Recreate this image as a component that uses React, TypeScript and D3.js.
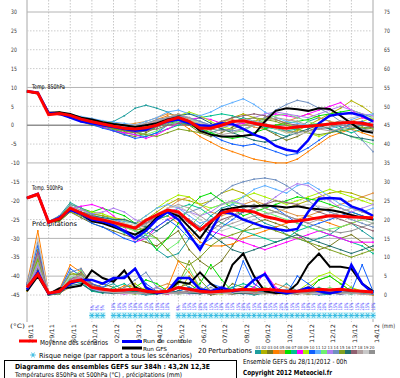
import React from "react";
import * as d3 from "d3";

const hours = [0,12,24,36,48,60,72,84,96,108,120,132,144,156,168,180,192,204,216,228,240,252,264,276,288,300,312,324,336,348,360,372,384];
const dayLabels = ["28/11","29/11","30/11","01/12","02/12","03/12","04/12","05/12","06/12","07/12","08/12","09/12","10/12","11/12","12/12","13/12","14/12"];
const leftTicks = [30,25,20,15,10,5,0,-5,-10,-15,-20,-25,-30,-35,-40,-45];
const rightTicks = [75,70,65,60,55,50,45,40,35,30,25,20,15,10,5,0];
const solidLevels = [30,10,-10,-30,-40];
const memberColors = ["#1e9e9e","#b0b000","#7a7a20","#ff8000","#e09040","#00e000","#00c090","#ff00ff","#a8f000","#1060ff","#60b0ff","#70f070","#b080f0","#7090c0","#80a020","#207070","#906070","#b0a0a0","#c8c8c8","#909090"];
const memberNames = ["01","02","03","04","05","06","07","08","09","10","11","12","13","14","15","16","17","18","19","20"];

// T850 (°C)
const mean850 = [9,8.5,2.8,3.1,2.6,1.6,0.9,0.3,-0.3,-0.8,-1,-0.7,0,1.2,2,1,-0.8,-0.8,0,1,1.2,0.5,0,-0.5,-0.8,-0.5,-0.3,0,0.3,0.6,0.8,0.5,0];
const ctrl850 = [9,8.6,3.2,3,2,1,0.5,0,-0.5,-1,-1.5,-1.2,0,1,1.5,0.5,0,-0.2,0.5,0.3,-1,-2.5,-3.5,-5.5,-6.5,-7,-4,0.5,2.5,3,3.2,2.5,1];
const gfs850 = [9,8.4,3.3,3.4,3,2,1.5,0.8,0.3,0,-0.5,0,0.5,1.5,2,1,-1.5,-2.5,-3,-3,-2.8,-2.5,1,3.8,4.5,4.2,3.8,4.5,4.3,2.5,0.5,-1.5,-2];
const pert850 = [
  [9,8.6,3,3.2,2.5,1.8,1.2,0.5,1,2.5,4.5,5.3,4.5,3.5,2,0.5,-1,-2,-1,0.5,2,1,-1,-2,-3,-1,1,2,1,-0.5,-1,0,1],
  [9,8.4,3.2,3.5,2.8,2,1.2,0.8,0.2,-0.3,-1,-0.5,1,2,3,1.5,0,-1,0.5,2,3,2,0.5,-1,-2,-1.5,0,1.5,3,4.5,6.5,5,3],
  [9,8.5,2.8,3,2,1,0,-0.5,-1.5,-2.5,-3,-2,-0.5,0.5,1.5,0,-2,-3,-2,-0.5,1,0.5,-1,-2.5,-4,-3,-1.5,-0.5,0.5,1,0,-1,-0.5],
  [9,8.7,3.3,3.1,2.2,1.5,1,0,-1,-2,-1.5,0,1.5,2.5,1,-1,-3,-4.5,-6,-7,-8,-9,-9.5,-10,-10,-9,-7,-5,-3,-2,-1,-2,-3],
  [9,8.5,3,2.8,2.5,2,1.5,1,0.5,0,0.5,1,2,3,2.5,1.5,0.5,0,1,1.5,0.5,-0.5,-1,0,1,2,3,2,1,0.5,1,2,1.5],
  [9,8.6,3.1,3.3,2.6,1.7,0.8,0,-0.8,-1.5,-2,-1.5,-0.5,0.5,1,0,-1,-2,-3,-3.5,-3,-2,-1,0,0.5,1,1.5,2.5,3,3.5,4,3,2],
  [9,8.5,3,3,2.3,1.2,0.3,-0.5,-1.2,-2,-2.5,-3,-2,-1,0,1,2,2.5,3,2.5,1.5,0.5,-0.5,-1,-1.5,-1,0,0.5,0,-1,-2,-1,0],
  [9,8.4,2.9,3.2,2.4,1.5,0.5,-0.5,-1.5,-2,-2.5,-3.5,-2.5,-1,0.5,1.5,2,1.5,0.5,0,0.5,1,2,3,2.5,2,3,4,5,6,4,2,1],
  [9,8.6,3.2,3,2.7,2.2,1.5,1,0.5,0,-0.5,-1,0,1,2.5,3.5,2.5,1,-0.5,-1,0,1,2,1.5,0.5,-1,-2,-3,-2,-1,0,1,2],
  [9,8.5,3,2.9,2,1,0.2,-0.8,-1.5,-2.5,-3.5,-3,-2,0,1,0.5,-1,-2.5,-4,-5,-5.5,-5,-6,-7,-8,-7.5,-6,-4,-2,-1,0.5,1,0],
  [9,8.6,3.2,3.3,2.8,2.3,1.8,1.2,0.8,0.5,0,1,2,3.5,4,3,2.5,3.5,5,6,7,5.5,3.5,2,1,0.5,0,-0.5,-1,0,1.5,2.5,3],
  [9,8.5,3.1,3,2.4,1.6,0.8,0.4,0,-0.8,-1.5,-2.5,-1.5,0,1,1.5,1,0,-1,-2,-1.5,0,1.5,2.5,3,2,1,0,-1,-2,-3,-4,-5],
  [9,8.4,3,3.1,2.5,1.8,1.3,0.6,0.2,-0.2,-0.5,0,1,2,2.5,2,1,0,-0.5,0,1,2,3,3.5,3,2.5,2,3,4,5,4,3,2.5],
  [9,8.6,3.3,3.2,2.6,1.9,1,0.3,-0.5,-1,-0.5,0.5,1.5,2,2.5,2,1,0,-1,-1.5,-1,0,2,4,5.5,6.6,6,4.5,3,1,-1,-4,-7],
  [9,8.5,2.9,3,2.3,1.4,0.6,-0.2,-1,-1.5,-2,-2.5,-3,-2,-1,-1.5,-2,-1,0,1,1.5,2,1.5,1,0,-1,-2,-2.5,-2,-1.5,-1,-0.5,-1],
  [9,8.5,3,3.1,2.5,1.8,1,0.5,0.3,0,-0.3,0,0.5,1.5,2.5,3,2,0.5,-1,-2,-3,-4,-4.5,-4,-3,-2,-1,0,-1,-2,-3,-3.5,-4],
  [9,8.6,3.2,3,2.2,1.3,0.5,0,-0.5,-1.2,-2,-1.5,-1,0,0.5,0,-0.5,0,1,2,2.5,3,2.5,1.5,0.5,0,-0.5,0,0.5,1,0.5,0,-0.5],
  [9,8.4,3.1,3.2,2.7,2,1.3,0.7,0.3,0,0,0.5,1,2,3,2,0,-1.5,-2.5,-2,-1,0,1,2,1.5,1,0,-1,-1.5,-1,0,0.5,0],
  [9,8.5,3,3,2.4,1.6,1,0.3,-0.3,-0.8,-1.2,-1,0,1.2,2,1.5,0.5,0,0.5,1,1.5,1,0,-1,-2,-2.5,-2,-1,0,1,2,2.5,2],
  [9,8.6,2.9,3.1,2.3,1.4,0.7,0,-0.5,-1,-1.3,-1,-0.5,0.5,1.5,1,0,-1,-1.5,-1,0,1,0.5,-0.5,-1.5,-2,-1.5,-1,-0.5,0,-0.5,-1,-1.5],
];

// T500 (°C)
const mean500 = [-19.3,-18.3,-25.7,-24.8,-22,-23.3,-24.6,-25.1,-25.8,-26.5,-27.3,-25.2,-23.8,-22.5,-23,-25.5,-27.8,-25.5,-23.3,-22.5,-22.6,-23,-24.2,-24.8,-25.6,-25.4,-25,-24.5,-24,-24.1,-24.3,-24.4,-24.6];
const ctrl500 = [-19.3,-18.2,-25.8,-24.5,-22.5,-23.5,-25,-25.5,-26.5,-28,-30,-28,-25,-23,-25,-29,-33,-28,-23,-23.5,-25,-26,-27,-27.5,-28,-27.5,-23,-19.5,-19.3,-19.5,-21.5,-22.5,-24];
const gfs500 = [-19.3,-18.4,-25.6,-25,-22.3,-23.5,-25.5,-26,-27,-28,-29,-27.5,-24.5,-23,-24,-27,-30,-26,-22.5,-22,-21.5,-21.5,-21.3,-21.5,-21.8,-21.5,-22,-22.3,-22.5,-23,-23.8,-24.5,-25];
const pert500 = [
  [-19.3,-18.3,-25.5,-24,-20.5,-22,-23.5,-24,-25,-26,-28,-30,-33,-35,-34,-30,-27,-24,-22,-21,-22,-24,-26,-27,-29,-30,-31,-30,-29,-27,-26,-28,-30],
  [-19.3,-18.3,-25.8,-25,-22,-23,-23.5,-24,-24.5,-25,-26,-25,-23,-21,-19.5,-20,-21,-20,-18,-17,-18,-20,-22,-23,-22,-21,-20,-19,-18,-17.5,-18,-19,-20],
  [-19.3,-18.4,-25.6,-25.5,-23,-24.5,-26,-27,-28,-29,-30,-31,-32,-30,-28,-33,-36,-38,-36,-32,-28,-26,-25,-26,-27,-29,-31,-33,-32,-30,-29,-31,-33],
  [-19.3,-18.2,-25.9,-24.5,-21.5,-23,-24.5,-24.8,-25.5,-26,-27,-26,-25,-24,-26,-28,-31,-32,-32,-31.5,-30,-29,-28,-27,-26,-25,-24,-25,-26,-27,-26,-25,-24],
  [-19.3,-18.3,-25.7,-24.8,-22.5,-23.5,-25,-25.5,-26,-27,-28,-27,-25,-22,-20,-19,-21,-23,-24,-23,-21,-20,-21,-22,-23,-24,-24,-23,-22,-21,-20,-19,-18],
  [-19.3,-18.3,-25.5,-24.5,-21,-22,-23,-22,-23,-24,-26,-29,-33,-30,-26,-22,-19,-18,-20,-22,-24,-23,-22,-21,-20,-19,-19.5,-20,-21,-22,-23,-24,-25],
  [-19.3,-18.4,-25.8,-25,-22,-23,-24,-25,-27,-28.5,-29,-27,-25,-24,-22,-21,-22,-24,-26,-27,-28,-29,-30,-31,-30,-28,-27,-28,-29,-30,-31,-32,-34],
  [-19.3,-18.2,-25.6,-24.6,-22,-21.5,-21,-22,-24,-27,-31,-30,-27,-25,-24,-25,-27,-28,-29,-30,-31,-32,-33,-32,-31,-30,-29,-28,-29,-30,-31,-31,-31],
  [-19.3,-18.3,-25.7,-24.5,-21.5,-22.5,-23,-23.5,-24.5,-25.5,-26,-24,-22,-20,-18.5,-19,-21,-22,-21,-20,-19,-18,-19,-20,-21,-20,-19,-18,-17,-18,-19,-20,-21],
  [-19.3,-18.3,-25.8,-25,-22.5,-24,-26,-27,-28.5,-30,-31,-29,-27,-25,-27,-30,-32,-30,-27,-25,-23,-22,-21,-22,-24,-26,-27,-26,-25,-24,-23,-24,-25],
  [-19.3,-18.4,-25.6,-24.8,-22,-23,-24,-24.5,-25,-25.5,-26,-24,-22,-21,-22,-24,-26,-25,-23,-21,-19,-17,-16,-17,-18,-16,-15.3,-17,-19,-21,-22,-23,-22],
  [-19.3,-18.3,-25.7,-25.2,-22.5,-23.5,-24.5,-25,-26,-27,-28,-29,-30,-33,-31,-27,-24,-22,-21,-20.5,-21,-22,-23,-24,-25,-26,-27,-28,-27.5,-27,-26,-25,-26],
  [-19.3,-18.2,-25.5,-24.5,-21.5,-22.5,-23.5,-23,-22,-23,-25,-26,-25,-23,-22,-23,-24,-23,-21,-20,-21,-22,-21,-19,-17,-15.5,-16,-18,-20,-22,-23,-22,-21],
  [-19.3,-18.3,-25.7,-24,-21,-22,-23.5,-25,-26.5,-28,-29,-30,-28,-26,-24,-23,-22,-20,-18,-16,-15,-14.3,-14,-14.5,-16,-18,-20,-22,-23,-24,-25,-26,-27],
  [-19.3,-18.4,-25.8,-25.3,-23,-24,-25.5,-26,-26.5,-27,-27.5,-28,-30,-33,-36,-37,-35,-32,-30,-29,-28,-27.5,-27,-28,-29,-30,-31,-32,-33,-34,-35,-34,-33],
  [-19.3,-18.3,-25.6,-24.8,-22,-23,-24,-24.5,-25,-25,-26,-27,-28,-26,-24,-25,-27,-29,-31,-33,-34,-33,-32,-31,-30,-29,-30,-31,-32,-33,-34,-33,-32],
  [-19.3,-18.3,-25.7,-25,-22.5,-23,-24,-25,-26,-26.5,-27,-26,-24,-23,-24,-26,-28,-27,-25,-24,-23,-22,-21,-20,-20.5,-21,-22,-23,-24,-25,-26,-27,-28],
  [-19.3,-18.4,-25.7,-24.6,-21.8,-23.2,-24.8,-25.3,-26,-26.8,-27.5,-26.5,-24,-22,-21,-22,-24,-26,-27,-26,-25,-24,-23.5,-23,-24,-25,-26,-25,-24,-23,-22,-23,-24],
  [-19.3,-18.3,-25.6,-25,-22.2,-23.5,-24.5,-25,-25.5,-26,-26.5,-25,-23.5,-22,-21.5,-23,-25,-27,-28,-27,-26,-25,-24,-23,-22,-21.5,-21,-21.5,-22,-23,-24,-25,-26],
  [-19.3,-18.2,-25.8,-24.7,-22,-23.3,-24.7,-25.2,-25.8,-26.5,-27.3,-26,-24.5,-23,-23.5,-25,-27,-28,-26,-24,-22,-21,-22,-23,-24,-25,-26,-27,-28,-28.5,-28,-27,-26],
];

// Precipitation (mm)
const meanPr = [2,5.5,0.5,1,3.5,4,2,1.5,1.2,1.3,1.5,1,0.8,1,2,1.5,1,0.8,1,1.2,1.5,1.3,1.5,1.3,1,1,1.2,1.5,1.3,1.5,1.2,1,0.8];
const ctrlPr = [1.5,6,0.3,1,3,4,4,3,4.5,4.5,7,2,0.5,1,4.5,4.5,1.5,1,2,1,1.5,4,5.5,1,0.5,1,2,1,0.5,1,8,3,0.5];
const gfsPr = [1,5,0.2,1.8,2,2.5,6.5,4.5,3.5,6.5,2,1,0.5,1,3.5,3,6,3,1,8,11,5,1,0.5,0.5,3,8,11,7.5,7.5,7,3,1];
const pertPr = [
  [2,9,0,0.5,4,3,1,2,3,1,0.5,0,0.3,1,4,2,1,0.5,1,2,0.5,0,0.5,1,3,1,0.5,0,0.2,1,2,0.5,0],
  [1.5,12,0.2,1,6,5,2,1,0.5,2,3,1,0.5,0.3,1,5,2,0.5,0.3,0.5,1,2,1,0.5,0.2,1,2,4,5,3,1,0.5,0.2],
  [2.5,7,0,0.3,3,4,1.5,3,2,0.5,1,1.5,0.5,0.2,2,3,1,0,0.5,3,2,0.5,0.3,0.5,1,0.5,0.2,0.5,1,0.5,0.3,1,0.5],
  [3,17,0.5,1.5,8,6,3,1.5,1,2.5,2,1,0.5,2,9,6,2,1,0.5,0.3,0.5,1,0.5,0.3,0.5,1,2,1,0.5,0.3,0.5,0.2,0],
  [1,8,0,0.5,2,7,3,2,1,0.5,0.3,1,2,3,2,1,0.5,1,0.5,0.2,1,0.5,1,3,2,1,0.5,0.3,0.5,1,0.5,0.3,0.2],
  [2,10,0.3,1,5,4,2,1,0.5,1,2,4,3,1,0.5,1,3,8,4,1,0.5,0.3,0.5,1,0.5,0.3,1,4,5,3,1,0.5,0.3],
  [1.8,6,0,0.5,3,3.5,1,0.5,2,3,1,0.5,0.3,0.5,1,2,1,0.5,1,2,3,2,1,0.5,0.3,0.5,1,2,1,0.5,0.3,0.5,1],
  [2.2,11,0.2,1,4,5,2,1,0.5,0.3,0.5,1,0.5,0.3,0.5,1,2,1,0.5,0.3,1,2,6,2,0.5,0.3,0.5,1,0.5,0.3,0.5,1,0.5],
  [1.2,9,0.3,0.5,3,6,2.5,1.5,1,0.5,1,2,1,0.5,0.3,0.5,1,0.5,0.3,1,2,1,0.5,0.3,0.5,1,3,5,6,4,2,1,0.5],
  [2.8,13,0.4,1.2,7,5,3,2,4,5,7,3,1,0.5,1,2,1,3,2,1,9,3,1,0.5,0.3,5,3,1,0.5,0.3,1,8,1],
  [1.5,8,0.2,0.8,5,4,1.5,1,0.5,1,0.5,0.3,0.5,1,2,1,0.5,0.3,0.6,1.1,0.4,0.3,0.7,1,1.5,1,0.5,0.3,0.5,0.2,0.5,1,0.5],
  [2.4,10,0.1,0.6,4.5,6.5,2,1.5,1,0.5,0.3,0.5,1,0.5,3,7,2,1,0.5,0.3,0.5,1,2,1,0.5,0.3,0.5,1,2,1,0.5,0.3,0.2],
  [1.7,7.5,0.3,0.7,3.5,4.5,1.8,0.8,0.5,0.3,0.5,1,2,1,0.6,0.3,0.4,1.2,0.5,0.2,0.6,1.4,0.5,0.3,0.7,1.1,0.5,0.2,0.6,1,0.4,0.3,0.2],
  [3.2,14,0.5,1.3,6,7,2.5,1,0.5,2,4,6,2,0.5,0.3,0.5,1,2,1,0.5,0.3,0.6,1.2,0.5,0.3,0.4,1,0.6,0.3,0.5,1.3,0.5,0.3],
  [2,9.5,0.2,0.9,5.5,5.5,2.2,1.2,0.8,0.5,0.3,0.5,0.3,1,3,9,4,1,0.5,0.3,0.5,0.4,0.6,1,0.5,0.3,0.6,1.2,0.5,0.4,0.5,1,0.5],
  [1.3,6.5,0,0.4,2.5,3,1.2,0.6,0.4,0.6,1,0.5,0.3,0.5,1.1,0.5,0.3,0.6,1.3,0.5,0.4,0.5,1,0.6,0.3,0.5,1.2,0.5,0.3,0.6,1,0.5,0.3],
  [2.6,11.5,0.3,1.1,4,6,2.8,1.8,1.3,0.8,0.5,0.3,0.5,0.4,0.6,1,0.5,0.3,0.5,1.2,0.6,0.3,0.5,1,0.4,0.3,0.6,1.1,0.5,0.3,0.5,0.9,0.5],
  [1.9,8.5,0.1,0.6,3.8,4.8,2,1,0.6,0.4,0.6,0.8,0.5,0.4,0.8,1.2,0.8,0.5,0.4,0.6,0.9,0.5,0.4,0.7,0.8,0.5,0.4,0.6,0.9,0.5,0.4,0.6,0.5],
  [2.1,15,0.4,1,5,5,2,1.2,0.8,0.6,0.4,0.6,0.8,0.6,0.4,0.7,0.8,0.5,0.4,0.6,0.8,0.7,0.4,0.6,0.9,0.6,0.4,0.5,0.8,0.6,0.4,0.7,0.4],
  [2.3,10.5,0.2,0.8,4.2,5.2,2.4,1.4,0.9,0.7,0.5,0.7,0.9,0.7,0.5,0.6,0.9,0.7,0.5,0.8,0.9,0.7,0.5,0.6,0.9,0.7,0.5,0.8,0.9,0.7,0.5,0.6,0.5],
];

// Snow risk (6-hourly steps)
const snowHours = [72,78,84,96,102,108,114,120,126,132,138,144,150,156,168,174,180,186,192,198,204,210,216,222,228,234,240,246,252,258,264,270,276,282,288,294,300,306,312,318,324,330,336,342,348,354,360,366,372,378,384];
const snowPct = [5,5,5,10,10,15,15,10,10,15,20,15,10,10,5,10,15,15,20,20,15,15,10,10,15,15,20,20,15,10,10,15,15,20,20,15,15,10,10,15,20,20,15,15,10,10,15,15,20,15,10];

const FONT = "DejaVu Sans";

function Txt(props: { x: number; y: number; len?: number; size?: number; bold?: boolean; anchor?: string; fill?: string; transform?: string; children: any }) {
  const { x, y, len, size = 6.5, bold, anchor = "start", fill = "#000", transform, children } = props;
  return (
    <text x={x} y={y} fontSize={size} fontWeight={bold ? "bold" : "normal"} textAnchor={anchor} fill={fill}
      transform={transform} textLength={len} lengthAdjust={len ? "spacingAndGlyphs" : undefined} fontFamily={FONT}>
      {children}
    </text>
  );
}

function Flake({ cx, cy, r, color }: { cx: number; cy: number; r: number; color: string }) {
  const a = [0, 60, 120];
  return (
    <g stroke={color} strokeWidth={0.9}>
      {a.map((deg) => {
        const t = (deg * Math.PI) / 180;
        return <line key={deg} x1={cx - r * Math.cos(t)} y1={cy - r * Math.sin(t)} x2={cx + r * Math.cos(t)} y2={cy + r * Math.sin(t)} />;
      })}
    </g>
  );
}

export default function App() {
  const x = d3.scaleLinear().domain([0, 384]).range([27, 373]);
  const yT = d3.scaleLinear().domain([-45, 30]).range([295, 12]);
  const yP = d3.scaleLinear().domain([0, 75]).range([295, 12]);
  const lT = d3.line<number>().x((_, i) => x(hours[i])).y((d) => yT(d));
  const lP = d3.line<number>().x((_, i) => x(hours[i])).y((d) => yP(d));

  const plotTop = 0, plotBottom = 322;

  const members = (data: number[][], sc: any, line: any, key: string) =>
    data.map((s, m) => (
      <g key={key + m}>
        <path d={line(s)} fill="none" stroke={memberColors[m]} strokeWidth={1} />
        {s.map((v, i) => (
          <rect key={i} x={x(hours[i]) - 0.8} y={sc(v) - 0.8} width={1.6} height={1.6} fill={memberColors[m]} />
        ))}
      </g>
    ));

  return (
    <svg width={400} height={378} viewBox="0 0 400 378" style={{ position: "absolute", left: 0, top: 0 }} fontFamily={FONT}>
      <rect x={0} y={0} width={400} height={378} fill="#fff" />

      {/* vertical grid */}
      {dayLabels.map((d, i) => (
        <line key={"v" + i} x1={x(i * 24)} x2={x(i * 24)} y1={plotTop} y2={plotBottom}
          stroke={i === 0 || i === dayLabels.length - 1 ? "#a8a8a8" : "#c8c8c8"}
          strokeDasharray={i === 0 || i === dayLabels.length - 1 ? undefined : "1.5,1.5"} strokeWidth={1} />
      ))}
      {/* horizontal grid */}
      {leftTicks.map((v) => (
        <line key={"h" + v} x1={27} x2={373} y1={yT(v)} y2={yT(v)}
          stroke={v === 0 ? "#909090" : solidLevels.includes(v) ? "#b4b4b4" : "#cccccc"}
          strokeWidth={v === 0 ? 1.5 : 1}
          strokeDasharray={v === 0 || solidLevels.includes(v) ? undefined : "1.5,1.5"} />
      ))}

      {/* axis labels */}
      {leftTicks.map((v) => (
        <Txt key={"lt" + v} x={11} y={yT(v) + 2.2} size={6} len={String(v).length * 2.9} fill="#333">{String(v)}</Txt>
      ))}
      {rightTicks.map((v) => (
        <Txt key={"rt" + v} x={384} y={yP(v) + 2.2} size={6} len={String(v).length * 2.9} fill="#333">{String(v)}</Txt>
      ))}
      {dayLabels.map((d, i) => (
        <Txt key={"dl" + i} x={0} y={0} size={6} len={19} fill="#222"
          transform={`translate(${x(i * 24) + 5.5},343) rotate(-90)`}>{d}</Txt>
      ))}
      <Txt x={10} y={328} size={6} len={15} fill="#222">(°C)</Txt>
      <Txt x={382} y={328} size={6} len={13} fill="#222">(mm)</Txt>

      {/* section labels */}
      <Txt x={32} y={88.5} size={6.5} len={33}>Temp. 850hPa</Txt>
      <Txt x={32} y={189.5} size={6.5} len={31}>Temp. 500hPa</Txt>
      <Txt x={32} y={226} size={6.5} len={45}>Précipitations</Txt>

      {/* perturbations */}
      {members(pert850, yT, lT, "a")}
      {members(pert500, yT, lT, "b")}
      {members(pertPr, yP, lP, "c")}

      {/* GFS, control, mean */}
      <path d={lT(gfs850) as string} fill="none" stroke="#000" strokeWidth={2} />
      <path d={lT(gfs500) as string} fill="none" stroke="#000" strokeWidth={2} />
      <path d={lP(gfsPr) as string} fill="none" stroke="#000" strokeWidth={2} />
      <path d={lT(ctrl850) as string} fill="none" stroke="#0000ff" strokeWidth={2.5} />
      <path d={lT(ctrl500) as string} fill="none" stroke="#0000ff" strokeWidth={2.5} />
      <path d={lP(ctrlPr) as string} fill="none" stroke="#0000ff" strokeWidth={2.5} />
      <path d={lT(mean850) as string} fill="none" stroke="#ff0000" strokeWidth={3} />
      <path d={lT(mean500) as string} fill="none" stroke="#ff0000" strokeWidth={3} />
      <path d={lP(meanPr) as string} fill="none" stroke="#ff0000" strokeWidth={3} />

      {/* snow risk row */}
      {snowHours.map((h, i) => {
        const cx = x(h);
        return (
          <g key={"s" + i}>
            <rect x={cx - 2.7} y={312} width={5.4} height={7} fill="#c8f0f8" />
            <Flake cx={cx} cy={315.5} r={2.6} color="#30b8e0" />
            <Txt x={0} y={0} size={5} len={String(snowPct[i]).length * 2.4 + 3} fill="#4040ff"
              transform={`translate(${cx + 1.8},310.5) rotate(-90)`}>{snowPct[i] + "%"}</Txt>
          </g>
        );
      })}

      {/* legend */}
      <line x1={19} x2={37} y1={341} y2={341} stroke="#ff0000" strokeWidth={3} />
      <Txt x={40} y={345} size={7} len={68}>Moyenne des scénarios</Txt>
      <line x1={122} x2={142} y1={341.5} y2={341.5} stroke="#0000ff" strokeWidth={3} />
      <Txt x={143} y={343.2} size={5.6} len={49}>Run de controle</Txt>
      <line x1={122} x2={142} y1={348} y2={348} stroke="#000" strokeWidth={3} />
      <Txt x={143} y={350.8} size={5.6} len={24}>Run GFS</Txt>
      <Flake cx={33} cy={355} r={2.8} color="#30b8e0" />
      <Txt x={39} y={358} size={7} len={153}>Risque neige (par rapport a tous les scénarios)</Txt>
      <Txt x={198} y={352.5} size={7} len={54}>20 Perturbations</Txt>
      {memberNames.map((n, i) => (
        <g key={"m" + i}>
          <Txt x={255 + i * 6 + 3} y={348.5} size={4} len={5} anchor="middle" fill="#333">{n}</Txt>
          <rect x={255 + i * 6} y={350} width={6} height={4} fill={memberColors[i]} />
        </g>
      ))}
      <Txt x={243} y={363.5} size={7} len={104}>Ensemble GEFS du 28/11/2012 - 00h</Txt>
      <Txt x={243} y={375} size={7} bold len={89}>Copyright 2012 Meteociel.fr</Txt>

      <rect x={4.5} y={360.5} width={232} height={20} fill="none" stroke="#000" strokeWidth={1} />
      <Txt x={15} y={368.5} size={7} bold len={195}>Diagramme des ensembles GEFS sur 384h : 43,2N 12,3E</Txt>
      <Txt x={15} y={376.5} size={6.5} len={167}>Températures 850hPa et 500hPa (°C) , précipitations (mm)</Txt>
    </svg>
  );
}
